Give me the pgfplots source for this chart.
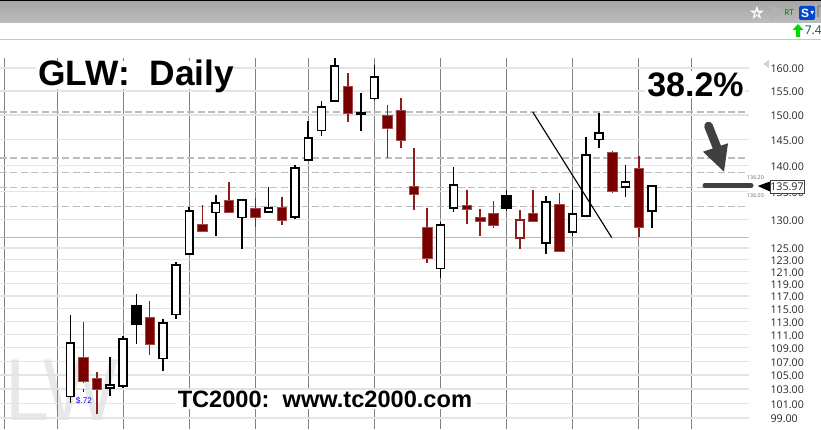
\documentclass[border=0pt]{standalone}
\usepackage{fontspec}
\setmainfont{Liberation Sans}
\newfontfamily\labfont{Open Sans}
\newfontfamily\djfont{DejaVu Sans}
\usepackage{pgfplots}
\pgfplotsset{compat=1.18}
\definecolor{dred}{HTML}{7A0000}
\definecolor{wred}{HTML}{8E1C1C}
\definecolor{edgered}{HTML}{A04A4A}
\definecolor{gridc}{HTML}{E4E4E4}
\definecolor{vert}{HTML}{808080}
\definecolor{dashc}{HTML}{BCBCBC}
\definecolor{arrowc}{HTML}{404040}
\newcommand{\candle}[8]{%
  \pgfmathsetmacro\xa{#3-#8}\pgfmathsetmacro\xb{#3+#8}%
  \edef\tmp{\noexpand\addplot[#1,line width=1.2pt,forget plot] coordinates {(#3,#4)(#3,#7)};
    \noexpand\addplot[#2,forget plot] coordinates {(\xa,#5)(\xb,#5)(\xb,#6)(\xa,#6)} --cycle;}%
  \tmp}
\newcommand{\cWhite}[5]{\candle{black}{fill=white,draw=black,line width=1.25pt}{#1}{#2}{#3}{#4}{#5}{0.295}}
\newcommand{\cBlack}[5]{\candle{black}{fill=black,draw=black,line width=1.25pt}{#1}{#2}{#3}{#4}{#5}{0.33}}
\newcommand{\cRed}[5]{\candle{wred}{fill=dred,draw=edgered,line width=0.5pt}{#1}{#2}{#3}{#4}{#5}{0.36}}
\newcommand{\cHollow}[5]{\candle{wred}{fill=white,draw=wred,line width=1.25pt}{#1}{#2}{#3}{#4}{#5}{0.295}}
\begin{document}
\begin{tikzpicture}
\useasboundingbox (0,0) rectangle (615.75pt,321.75pt);
% background watermark
\begin{scope}[x=0.75pt,y=-0.75pt,shift={(0,321.75pt)}]
\node[anchor=base west,inner sep=0,text=black!9,xscale=0.9,font=\fontsize{66pt}{66pt}\selectfont] at (5,420) {LW};
\end{scope}
\begin{axis}[
  at={(0,0)},anchor=south west,
  scale only axis,width=561.525pt,height=278.25pt,
  ymode=log,
  xmin=-5.318,xmax=51.316,ymin=97.52,ymax=162.21,
  enlargelimits=false,
  axis line style={draw=none},
  major tick length=0pt,
  xtick={-5,-1,4,9,14,18,23,28,33,38,43,47},
  xticklabels={},
  ytick={160,155,150,145,140,135,130,125,123,121,119,117,115,113,111,109,107,105,103,101,99},
  yticklabels={160.00,155.00,150.00,145.00,140.00,135.00,130.00,125.00,123.00,121.00,119.00,117.00,115.00,113.00,111.00,109.00,107.00,105.00,103.00,101.00,99.00},
  yticklabel pos=right,
  yticklabel style={anchor=west,inner sep=0pt,xshift=16.2pt,yshift=-0.75pt,font=\labfont\fontsize{8pt}{8pt}\selectfont,text=black!85},
  xmajorgrids,ymajorgrids,
  x grid style={vert,line width=0.8pt},
  y grid style={gridc,line width=1pt},
]
% horizontal levels
\addplot[dashc,line width=1.3pt,dash pattern=on 5.2pt off 2.6pt,forget plot] coordinates {(-5.318,150.69)(51.316,150.69)};
\addplot[dashc,line width=1.3pt,dash pattern=on 5.2pt off 2.6pt,forget plot] coordinates {(-5.318,141.48)(51.316,141.48)};
\addplot[dashc,line width=1.3pt,dash pattern=on 5.2pt off 2.6pt,forget plot] coordinates {(-5.318,138.61)(51.316,138.61)};
\addplot[dashc,line width=1.3pt,dash pattern=on 5.2pt off 2.6pt,forget plot] coordinates {(-5.318,135.79)(51.316,135.79)};
\addplot[dashc,line width=1.3pt,dash pattern=on 5.2pt off 2.6pt,forget plot] coordinates {(-5.318,132.31)(51.316,132.31)};
\addplot[black!28,line width=1.4pt,forget plot] coordinates {(-5.318,126.80)(51.316,126.80)};
% candles: index, high, body top, body bottom, low
\cWhite{0}{114.03}{109.73}{101.96}{101.03}
\cRed{1}{112.91}{107.57}{104.17}{103.89}
\cRed{2}{105.41}{104.49}{102.90}{99.53}
\cWhite{3}{107.63}{103.61}{103.14}{101.96}
\cWhite{4}{110.85}{110.34}{103.46}{103.14}
\cBlack{5}{117.32}{115.48}{112.65}{109.63}
\cRed{6}{116.24}{113.62}{109.54}{107.86}
\cWhite{7}{113.37}{112.80}{107.42}{105.65}
\cWhite{8}{122.59}{122.14}{114.08}{113.46}
\cWhite{9}{132.31}{131.53}{123.94}{123.82}
\cRed{10}{132.56}{129.07}{127.92}{127.80}
\cWhite{11}{134.38}{132.93}{131.22}{126.98}
\cRed{12}{136.80}{133.40}{131.29}{131.29}
\cWhite{13}{133.53}{133.53}{130.31}{124.88}
\cRed{14}{133.84}{131.95}{130.38}{128.62}
\cWhite{15}{135.86}{132.02}{131.35}{131.35}
\cRed{16}{134.02}{132.13}{129.84}{129.07}
\cWhite{17}{140.12}{139.44}{130.44}{130.02}
\cWhite{18}{148.72}{145.34}{141.09}{141.09}
\cWhite{19}{152.87}{151.61}{146.82}{145.81}
\cWhite{20}{162.40}{160.44}{152.93}{152.78}
\cRed{21}{158.85}{155.95}{150.27}{148.64}
\cWhite{22}{154.54}{150.56}{150.27}{146.82}
\cWhite{23}{160.60}{157.99}{153.41}{153.14}
\cRed{24}{152.03}{149.86}{147.37}{141.48}
\cRed{25}{153.49}{151.05}{144.80}{143.44}
\cRed{26}{143.32}{136.11}{134.62}{131.76}
\cRed{27}{132.02}{128.50}{123.15}{122.53}
\cWhite{28}{129.60}{129.02}{121.52}{120.00}
\cWhite{29}{139.62}{136.24}{132.02}{131.40}
\cRed{30}{135.30}{132.49}{131.71}{129.25}
\cRed{31}{131.84}{130.31}{129.72}{126.98}
\cRed{32}{133.29}{131.16}{129.02}{128.55}
\cBlack{33}{135.30}{134.31}{131.95}{131.58}
\cHollow{34}{131.65}{129.90}{126.74}{124.78}
\cRed{35}{135.30}{131.04}{129.67}{129.55}
\cWhite{36}{134.20}{133.11}{125.82}{124.04}
\cRed{37}{134.75}{132.67}{124.49}{124.49}
\cWhite{38}{135.36}{130.98}{127.80}{127.10}
\cWhite{39}{145.49}{142.01}{130.62}{130.38}
\cWhite{40}{150.36}{146.30}{145.08}{143.44}
\cRed{41}{142.85}{142.46}{135.17}{134.75}
\cWhite{42}{140.00}{136.80}{135.86}{134.13}
\cRed{43}{141.89}{139.49}{128.50}{126.87}
\cWhite{44}{136.11}{136.11}{131.47}{128.55}
% trend line
\addplot[black,line width=0.85pt,forget plot] coordinates {(34.98,150.63)(40.95,126.80)};
\end{axis}
% annotations in pixel coordinates of the screenshot
\begin{scope}[x=0.75pt,y=-0.75pt,shift={(0,321.75pt)}]
% window chrome
\fill[white] (0,0) rectangle (821,58);
\shade[top color=black!35,bottom color=black!26] (0,1) rectangle (821,23);
\fill[black] (0,0) rectangle (821,1.2);
\fill[black!22] (0,38.6) rectangle (821,39.8);
\node[text=white,font=\djfont\fontsize{14pt}{14pt}\selectfont,inner sep=0] at (757,13) {★};
\node[text=black!28,font=\djfont\fontsize{6pt}{6pt}\selectfont,inner sep=0] at (757,13.5) {★};
\fill[black!30] (771,6) -- (786,12) -- (773,17) -- (773,21) -- (771,21) -- cycle;
\node[text=green!45!black,font=\labfont\fontsize{6pt}{6pt}\selectfont,inner sep=0] at (789,13) {RT};
\fill[blue!65!cyan!80!black,rounded corners=1.5pt] (799,6) rectangle (815,20);
\node[text=white,font=\bfseries\fontsize{9pt}{9pt}\selectfont,inner sep=0] at (805,13.5) {S};
\fill[white] (810.5,11) -- (814,11) -- (812.2,14.5) -- cycle;
\draw[black!45,line width=0.8pt] (818,6) -- (821,6) (818,6) -- (818,17);
\fill[green!85!black] (798,24) -- (803.5,30) -- (800,30) -- (800,37) -- (796,37) -- (796,30) -- (792.5,30) -- cycle;
\node[anchor=base west,text=teal!70!black,font=\labfont\fontsize{9pt}{9pt}\selectfont,inner sep=0] at (804.5,35) {7.4};
% text masks and headings
\fill[white] (36,61) rectangle (234,89);
\node[anchor=base west,inner sep=0,font=\bfseries\fontsize{26.5pt}{26.5pt}\selectfont] at (38,86) {GLW:\ \ Daily};
\fill[white] (645,71) rectangle (745,98);
\node[anchor=base west,inner sep=0,font=\bfseries\fontsize{25.5pt}{25.5pt}\selectfont] at (647,96.7) {38.2\%};
\fill[white] (176,390) rectangle (475,409);
\node[anchor=base west,inner sep=0,font=\bfseries\fontsize{17.7pt}{17.7pt}\selectfont] at (177.5,407.3) {TC2000:\ \ www.tc2000.com};
\draw[blue,line width=0.6pt] (83.3,389) -- (83.3,392);
\node[anchor=center,inner sep=0,text=blue,font=\fontsize{6.2pt}{6.2pt}\selectfont] at (84,400.8) {\$.72};
% arrow and level
\draw[arrowc,line width=6.5pt,line cap=round] (708.5,126) -- (718,150);
\fill[arrowc] (703,151.7) -- (728,143.3) -- (724,171.7) -- cycle;
\draw[arrowc,line width=3.8pt,line cap=round] (705,185.6) -- (751,185.6);
% price flag
\fill[black!18] (769,60) -- (769,68) -- (763,64) -- cycle;
\fill[black] (757.7,186) -- (770,181.5) -- (770,191.5) -- cycle;
\draw[arrowc,fill=white,line width=0.7pt] (770,180) rectangle (804,193);
\node[inner sep=0,font=\labfont\fontsize{8pt}{8pt}\selectfont,text=black!85] at (787,186.6) {135.97};
\node[inner sep=0,font=\labfont\fontsize{4pt}{4pt}\selectfont,text=black!60] at (755.5,178) {136.20};
\node[inner sep=0,font=\labfont\fontsize{4pt}{4pt}\selectfont,text=black!60] at (755.5,195.7) {136.03};
\end{scope}
\end{tikzpicture}
\end{document}
